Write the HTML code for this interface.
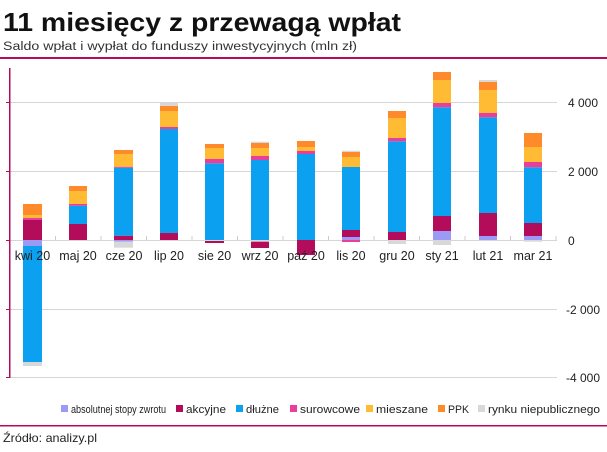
<!DOCTYPE html>
<html><head><meta charset="utf-8"><style>
body{margin:0;width:607px;height:447px;background:#fff;overflow:hidden;font-family:"Liberation Sans",sans-serif}
</style></head><body>
<svg width="607" height="447" xmlns="http://www.w3.org/2000/svg" font-family="Liberation Sans, sans-serif">
<text x="3" y="31" font-size="26" font-weight="bold" fill="#111" textLength="398" lengthAdjust="spacingAndGlyphs">11 miesięcy z przewagą wpłat</text>
<text x="3" y="50" font-size="11.5" fill="#333" textLength="354" lengthAdjust="spacingAndGlyphs">Saldo wpłat i wypłat do funduszy inwestycyjnych (mln zł)</text>
<rect x="0" y="57" width="607" height="2" fill="#b30c5b"/>
<g stroke="#d6d6d6" stroke-width="1">
<line x1="9" y1="102.5" x2="557" y2="102.5"/><line x1="9" y1="171.5" x2="557" y2="171.5"/>
<line x1="9" y1="240.5" x2="557" y2="240.5"/><line x1="9" y1="309.5" x2="557" y2="309.5"/>
<line x1="9" y1="377.5" x2="557" y2="377.5"/>
</g>
<g stroke="#ccc"><line x1="55.5" y1="236" x2="55.5" y2="240"/><line x1="101" y1="236" x2="101" y2="240"/><line x1="146.5" y1="236" x2="146.5" y2="240"/><line x1="192" y1="236" x2="192" y2="240"/><line x1="237.5" y1="236" x2="237.5" y2="240"/><line x1="283" y1="236" x2="283" y2="240"/><line x1="328.5" y1="236" x2="328.5" y2="240"/><line x1="374" y1="236" x2="374" y2="240"/><line x1="419.5" y1="236" x2="419.5" y2="240"/><line x1="465" y1="236" x2="465" y2="240"/><line x1="510.5" y1="236" x2="510.5" y2="240"/><line x1="556" y1="236" x2="556" y2="240"/></g>
<rect x="9" y="68" width="1.5" height="310" fill="#b30c5b"/>
<g fill="#b30c5b"><rect x="6" y="102" width="4" height="1"/><rect x="6" y="171" width="4" height="1"/><rect x="6" y="240" width="4" height="1"/><rect x="6" y="309" width="4" height="1"/><rect x="6" y="377" width="4" height="1"/></g>
<g font-size="12" fill="#222">
<text x="568" y="107">4 000</text><text x="568" y="176">2 000</text><text x="568" y="245">0</text><text x="566" y="314">-2 000</text><text x="566" y="382">-4 000</text>
</g>
<g>
<rect x="23" y="220" width="19" height="20" fill="#b30c5b"/><rect x="23" y="218" width="19" height="2" fill="#e83e9c"/><rect x="23" y="215" width="19" height="3" fill="#ffbb33"/><rect x="23" y="204" width="19" height="11" fill="#ff8a2c"/>
<rect x="23" y="240" width="19" height="6" fill="#9b9bf5"/><rect x="23" y="246" width="19" height="116" fill="#0ba0f0"/><rect x="23" y="362" width="19" height="4" fill="#d8d8d8"/>
<rect x="69" y="224" width="18" height="16" fill="#b30c5b"/><rect x="69" y="205.7" width="18" height="18.3" fill="#0ba0f0"/><rect x="69" y="204" width="18" height="1.7" fill="#e83e9c"/><rect x="69" y="191" width="18" height="13" fill="#ffbb33"/><rect x="69" y="186" width="18" height="5" fill="#ff8a2c"/>
<rect x="114" y="235.7" width="19" height="4.3" fill="#b30c5b"/><rect x="114" y="167.7" width="19" height="68" fill="#0ba0f0"/><rect x="114" y="166.7" width="19" height="1" fill="#e83e9c"/><rect x="114" y="154" width="19" height="12.7" fill="#ffbb33"/><rect x="114" y="150" width="19" height="4" fill="#ff8a2c"/>
<rect x="114" y="240" width="19" height="1.7" fill="#9b9bf5"/><rect x="114" y="241.7" width="19" height="6" fill="#d8d8d8"/>
<rect x="160" y="233" width="18" height="7" fill="#b30c5b"/><rect x="160" y="129" width="18" height="104" fill="#0ba0f0"/><rect x="160" y="127" width="18" height="2" fill="#e83e9c"/><rect x="160" y="111" width="18" height="16" fill="#ffbb33"/><rect x="160" y="106" width="18" height="5" fill="#ff8a2c"/><rect x="160" y="102.7" width="18" height="3.3" fill="#d8d8d8"/>
<rect x="205" y="163.3" width="19" height="76.7" fill="#0ba0f0"/><rect x="205" y="159" width="19" height="4.3" fill="#e83e9c"/><rect x="205" y="148" width="19" height="11" fill="#ffbb33"/><rect x="205" y="144" width="19" height="4" fill="#ff8a2c"/>
<rect x="205" y="240" width="19" height="1" fill="#d8d8d8"/><rect x="205" y="241" width="19" height="2" fill="#b30c5b"/>
<rect x="251" y="160" width="18" height="80" fill="#0ba0f0"/><rect x="251" y="156" width="18" height="4" fill="#e83e9c"/><rect x="251" y="148" width="18" height="8" fill="#ffbb33"/><rect x="251" y="143" width="18" height="5" fill="#ff8a2c"/><rect x="251" y="141.7" width="18" height="1.3" fill="#d8d8d8"/>
<rect x="251" y="240" width="18" height="1.7" fill="#d8d8d8"/><rect x="251" y="241.7" width="18" height="6.3" fill="#b30c5b"/>
<rect x="297" y="154" width="18" height="86" fill="#0ba0f0"/><rect x="297" y="151" width="18" height="3" fill="#e83e9c"/><rect x="297" y="147" width="18" height="4" fill="#ffbb33"/><rect x="297" y="141" width="18" height="6" fill="#ff8a2c"/>
<rect x="297" y="240" width="18" height="15" fill="#b30c5b"/>
<rect x="342" y="237" width="18" height="3" fill="#9b9bf5"/><rect x="342" y="230" width="18" height="7" fill="#b30c5b"/><rect x="342" y="167" width="18" height="63" fill="#0ba0f0"/><rect x="342" y="157" width="18" height="10" fill="#ffbb33"/><rect x="342" y="152" width="18" height="5" fill="#ff8a2c"/><rect x="342" y="150.7" width="18" height="1.3" fill="#d8d8d8"/>
<rect x="342" y="240" width="18" height="2" fill="#e83e9c"/>
<rect x="388" y="232" width="18" height="8" fill="#b30c5b"/><rect x="388" y="141.3" width="18" height="90.7" fill="#0ba0f0"/><rect x="388" y="138" width="18" height="3.3" fill="#e83e9c"/><rect x="388" y="118" width="18" height="20" fill="#ffbb33"/><rect x="388" y="111" width="18" height="7" fill="#ff8a2c"/>
<rect x="388" y="240" width="18" height="4" fill="#d8d8d8"/>
<rect x="433" y="231" width="18" height="9" fill="#9b9bf5"/><rect x="433" y="216" width="18" height="15" fill="#b30c5b"/><rect x="433" y="107.3" width="18" height="108.7" fill="#0ba0f0"/><rect x="433" y="103" width="18" height="4.3" fill="#e83e9c"/><rect x="433" y="80" width="18" height="23" fill="#ffbb33"/><rect x="433" y="72" width="18" height="8" fill="#ff8a2c"/>
<rect x="433" y="240" width="18" height="5" fill="#d8d8d8"/>
<rect x="479" y="236" width="18" height="4" fill="#9b9bf5"/><rect x="479" y="213" width="18" height="23" fill="#b30c5b"/><rect x="479" y="117.3" width="18" height="95.7" fill="#0ba0f0"/><rect x="479" y="113" width="18" height="4.3" fill="#e83e9c"/><rect x="479" y="90" width="18" height="23" fill="#ffbb33"/><rect x="479" y="82" width="18" height="8" fill="#ff8a2c"/><rect x="479" y="80" width="18" height="2" fill="#d8d8d8"/>
<rect x="524" y="236" width="18" height="4" fill="#9b9bf5"/><rect x="524" y="223" width="18" height="13" fill="#b30c5b"/><rect x="524" y="167.3" width="18" height="55.7" fill="#0ba0f0"/><rect x="524" y="162" width="18" height="5.3" fill="#e83e9c"/><rect x="524" y="147" width="18" height="15" fill="#ffbb33"/><rect x="524" y="133" width="18" height="14" fill="#ff8a2c"/>
<rect x="524" y="240" width="18" height="1.7" fill="#d8d8d8"/>
</g>
<g font-size="12.5" fill="#222" text-anchor="middle">
<text x="32.5" y="260">kwi 20</text><text x="78" y="260">maj 20</text><text x="124" y="260">cze 20</text><text x="169" y="260">lip 20</text><text x="214.5" y="260">sie 20</text><text x="260" y="260">wrz 20</text><text x="306" y="260">paź 20</text><text x="351" y="260">lis 20</text><text x="397" y="260">gru 20</text><text x="442" y="260">sty 21</text><text x="488" y="260">lut 21</text><text x="533" y="260">mar 21</text>
</g>
<g font-size="11" fill="#222">
<rect x="61" y="405" width="7" height="7" fill="#9b9bf5"/><text x="71" y="413" textLength="95" lengthAdjust="spacingAndGlyphs">absolutnej stopy zwrotu</text>
<rect x="176" y="405" width="7" height="7" fill="#b30c5b"/><text x="186" y="413" textLength="40" lengthAdjust="spacingAndGlyphs">akcyjne</text>
<rect x="236" y="405" width="7" height="7" fill="#0ba0f0"/><text x="246" y="413" textLength="33" lengthAdjust="spacingAndGlyphs">dłużne</text>
<rect x="290" y="405" width="7" height="7" fill="#e83e9c"/><text x="300" y="413" textLength="60" lengthAdjust="spacingAndGlyphs">surowcowe</text>
<rect x="366" y="405" width="7" height="7" fill="#ffbb33"/><text x="376" y="413" textLength="52" lengthAdjust="spacingAndGlyphs">mieszane</text>
<rect x="438" y="405" width="7" height="7" fill="#ff8a2c"/><text x="448" y="413" textLength="21" lengthAdjust="spacingAndGlyphs">PPK</text>
<rect x="478" y="405" width="7" height="7" fill="#d8d8d8"/><text x="488" y="413" textLength="112" lengthAdjust="spacingAndGlyphs">rynku niepublicznego</text>
</g>
<rect x="0" y="425" width="607" height="1.5" fill="#b30c5b"/>
<text x="3" y="442" font-size="12" fill="#222" textLength="94" lengthAdjust="spacingAndGlyphs">Źródło: analizy.pl</text>
</svg>
</body></html>
